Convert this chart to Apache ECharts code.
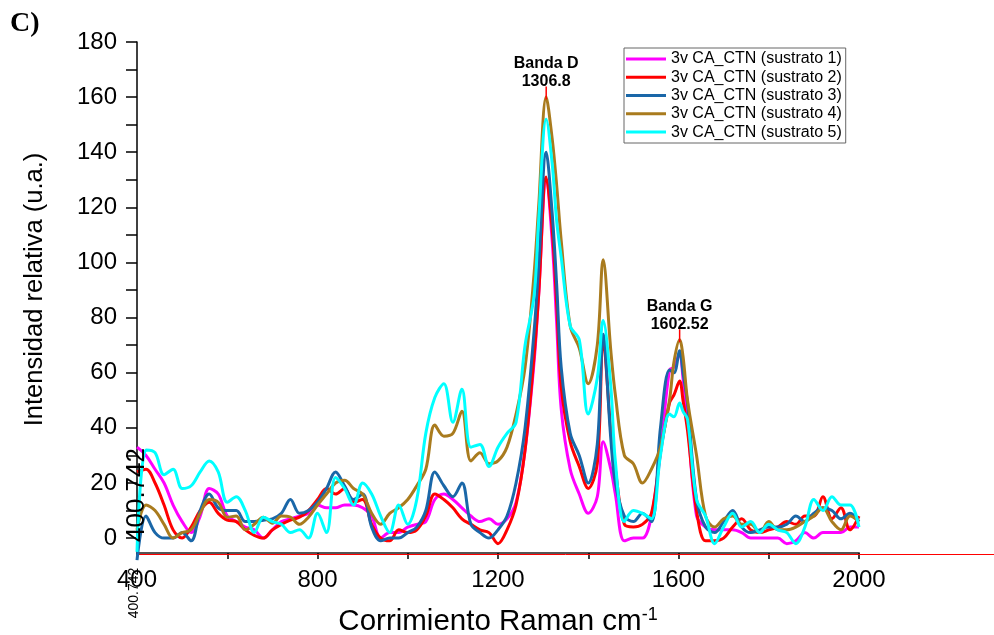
<!DOCTYPE html>
<html>
<head>
<meta charset="utf-8">
<title>Raman CA_CTN</title>
<script src="https://cdn.jsdelivr.net/npm/echarts@6/dist/echarts.min.js"></script>
<style>
  html, body { margin: 0; padding: 0; background: #fff; }
  #raman-chart { width: 994px; height: 635px; }
</style>
</head>
<body>
<div id="raman-chart"></div>
<script>
/*****
 * DATA
 */
//Raman shift (cm-1), shared by every spectrum
var ramanShift = [400, 420, 440, 460, 480, 500, 520, 540, 560, 580, 600, 620, 640, 660, 680,
  700, 720, 740, 760, 780, 800, 820, 840, 860, 880, 900, 920, 940, 960, 980,
  1000, 1020, 1040, 1060, 1080, 1100, 1120, 1140, 1160, 1180, 1200, 1220, 1240, 1260, 1280,
  1290, 1306.8, 1320, 1330, 1340, 1360, 1380, 1400, 1420, 1433, 1450, 1460, 1480, 1500,
  1520, 1540, 1560, 1580, 1590, 1602.52, 1610, 1620, 1640, 1660, 1680, 1700,
  1720, 1740, 1760, 1780, 1800, 1820, 1840, 1860, 1880, 1900, 1920, 1940, 1960, 1980, 2000];

var sustrato1 = [33, 30, 25, 20, 12, 6, 2, 8, 18, 16, 8, 6, 4, 3, 0,
  3, 6, 7, 8, 9, 12, 11, 11, 12, 12, 11, 8, 0, 2, 2,
  4, 5, 6, 14, 16, 14, 11, 8, 6, 7, 5, 7, 13, 32, 64,
  88, 130, 108, 78, 47, 25, 16, 9, 15, 35, 25, 16, -1, 0,
  0, 8, 31, 61, 62, 67, 58, 43, 8, 4, 3, 3,
  3, 2, 0, 0, 0, 0, -2, -1, 2, 0, 2, 2, 2, 4, 4];

var sustrato2 = [24, 25, 20, 12, 3, 0, 4, 10, 13, 9, 6.5, 6, 3, 1, 0,
  3, 5, 6.5, 7.6, 10, 14, 18, 16, 18, 13, 14, 5, 0, -1, 3,
  2, 3, 8, 16, 14, 11, 7, 5, 3, 2, -2, 3, 12, 32, 66,
  88, 131, 112, 85, 55, 35, 26, 18, 27, 72, 39, 25, 5, 4,
  5, 9, 31, 49, 52, 57, 50, 39, 10, -1, -1, 0,
  4, 7, 3, 2, 3, 4, 6, 5, 8, 8, 15, 7, 11, 3, 8];

var sustrato3 = [-8, 8, 2, 0, 0, 2, -1, 10, 16, 11, 10, 10, 6, 6, 6.5,
  7, 9, 14, 9, 10, 13, 18, 24, 19, 14, 16, 4, -1, 0, 0,
  2, 4, 10, 24, 19, 15, 20, 5, 2, 0, 3, 8, 20, 40, 75,
  98, 140, 118, 92, 62, 38, 30, 20, 34, 74, 36, 20, 8, 6,
  9, 6, 40, 61, 60, 68, 60, 49, 14, 4, 2, 6,
  10, 4, 2, 3, 4, 4, 5, 8, 6, 9, 11, 10, 7, 9, 6];

var sustrato4 = [3, 12, 10, 5, 0, 2, 3, 9, 14, 13, 7.6, 8, 3, 5, 7.6,
  5.4, 8, 7.6, 5, 7.6, 12, 16, 20, 21, 18, 16, 9, 5, 9, 11,
  14, 19, 25, 41, 37, 38, 46, 28, 31, 27, 28, 33, 45, 62, 96,
  120, 160, 145, 128, 108, 77, 69, 56, 70, 101, 68, 52, 30, 27,
  20, 25, 33, 50, 64, 72, 66, 50, 30, 8, 4, 7,
  8, 5, 5, 2, 6, 3, 3, 4, 6, 8, 11, 6, 3, 8, 6];

var sustrato5 = [-5, 32, 31, 23, 25, 18, 19, 24, 28, 24, 13, 15, 10, 2, 7.6,
  6, 5, 2, 3, 0, 9, 2, 22, 18, 12, 20, 16, 8, 2, 12,
  5, 14, 38, 51, 56, 42, 54, 33, 34, 26, 33, 38, 42, 70, 88,
  115, 152, 136, 115, 102, 77, 72, 45, 58, 79, 55, 28, 6, 10,
  9, 7, 30, 45, 44, 49, 46, 43, 14, 8, -2, 4,
  9, 4, 6, 2, 5, 3, 2, -2, 4, 14, 10, 15, 12, 12, 4];

var seriesNames = ['3v CA_CTN (sustrato 1)', '3v CA_CTN (sustrato 2)', '3v CA_CTN (sustrato 3)',
  '3v CA_CTN (sustrato 4)', '3v CA_CTN (sustrato 5)'];

//Peak annotations
var peakShift = [1306.8, 1602.52];
var peakNames = ['Banda D', 'Banda G'];

//Axis ticks
var xLabels = [400, 800, 1200, 1600, 2000];
var xTicks = [400, 600, 800, 1000, 1200, 1400, 1600, 1800, 2000];
var yLabels = [0, 20, 40, 60, 80, 100, 120, 140, 160, 180];
var yTicks = [0, 10, 20, 30, 40, 50, 60, 70, 80, 90, 100, 110, 120, 130, 140, 150, 160, 170, 180];

/*****
 * CONFIGURATION
 */
var colMagenta = '#ff00ff';
var colRed = '#ff0000';
var colBlue = '#1a67a8';
var colBrown = '#a97b1e';
var colCyan = '#00ffff';
var fontSans = '"Liberation Sans", Arial, sans-serif';
var yMin = -5.4;

'use strict';

function pairs(values) {
  return ramanShift.map(function (x, i) {
    return [x, values[i]];
  });
}

function buildSeries(name, values, color) {
  return {
    name: name,
    type: 'line',
    data: pairs(values),
    smooth: 0.35,
    showSymbol: false,
    symbol: 'none',
    clip: false,
    lineStyle: {color: color, width: 3},
    itemStyle: {color: color}
  };
}

var allValues = [sustrato1, sustrato2, sustrato3, sustrato4, sustrato5];
var colors = [colMagenta, colRed, colBlue, colBrown, colCyan];

var series = allValues.map(function (v, i) {
  return buildSeries(seriesNames[i], v, colors[i]);
});

// peak labels sit on the tallest spectrum (sustrato 4)
series[3].markPoint = {
  silent: true,
  symbol: 'rect',
  symbolSize: [1.5, 13],
  symbolOffset: [0, -4],
  itemStyle: {color: colRed},
  label: {
    show: true,
    position: 'top',
    distance: -4,
    color: '#000',
    fontFamily: fontSans,
    fontWeight: 'bold',
    fontSize: 16,
    lineHeight: 18,
    formatter: function (p) {
      return p.name + '\n' + p.data.coord[0];
    }
  },
  data: peakShift.map(function (x, i) {
    return {name: peakNames[i], coord: [x, sustrato4[ramanShift.indexOf(x)]]};
  })
};

var myChart = echarts.init(document.getElementById('raman-chart'));

var option = {
  animation: false,
  backgroundColor: '#fff',
  grid: {left: 137, right: 135, top: 42, bottom: 82, outerBoundsMode: 'none'},
  legend: {
    orient: 'vertical',
    left: 624,
    top: 48,
    padding: [2, 4, 2, 2],
    itemGap: 0.5,
    itemWidth: 40,
    itemHeight: 3,
    icon: 'rect',
    borderColor: '#666',
    borderWidth: 1,
    textStyle: {fontFamily: fontSans, fontSize: 16, color: '#000', lineHeight: 17.8},
    data: seriesNames
  },
  xAxis: {
    type: 'value',
    min: 400,
    max: 2000,
    name: 'Corrimiento Raman cm{sup|-1}',
    nameLocation: 'middle',
    nameGap: 53,
    nameTextStyle: {
      fontFamily: fontSans, fontSize: 29.5, color: '#000',
      rich: {sup: {fontFamily: fontSans, fontSize: 18, color: '#000', verticalAlign: 'top', padding: [0, 0, 14, 0]}}
    },
    splitLine: {show: false},
    axisLine: {onZero: false, lineStyle: {color: '#555', width: 2}},
    axisTick: {customValues: xTicks, length: 6, lineStyle: {color: '#000', width: 1.5}},
    axisLabel: {
      customValues: xLabels, margin: 15, fontFamily: fontSans, fontSize: 24, color: '#000',
      formatter: function (v) { return String(v); }
    }
  },
  yAxis: {
    type: 'value',
    min: yMin,
    max: 180,
    name: 'Intensidad relativa (u.a.)',
    nameLocation: 'middle',
    nameGap: 89,
    nameTextStyle: {fontFamily: fontSans, fontSize: 25.5, color: '#000', padding: [0, 0, 0, 16]},
    splitLine: {show: false},
    axisLine: {show: true, lineStyle: {color: '#000', width: 1.5}},
    axisTick: {customValues: yTicks, length: 11, lineStyle: {color: '#000', width: 1.5}},
    axisLabel: {customValues: yLabels, margin: 20, fontFamily: fontSans, fontSize: 24, color: '#000'}
  },
  graphic: [
    {
      id: 'panel', type: 'text', left: 10, top: 10,
      style: {text: 'C)', font: 'bold 28px "Liberation Serif", "Times New Roman", serif', fill: '#000'}
    },
    {
      id: 'stray-big', type: 'text', x: 137, y: 495, rotation: Math.PI / 2, z: 100,
      style: {text: '400.742', font: '26px ' + fontSans, fill: '#000', textAlign: 'center', textVerticalAlign: 'middle'}
    },
    {
      id: 'stray-small', type: 'text', x: 134, y: 593, rotation: Math.PI / 2, z: 100,
      style: {text: '400.742', font: '14px ' + fontSans, fill: '#000', textAlign: 'center', textVerticalAlign: 'middle'}
    }
  ],
  series: series
};

myChart.setOption(option);

/****
 * RED BASELINE (runs past the end of the axis to the page edge)
 */
var baseY = myChart.convertToPixel({yAxisIndex: 0}, yMin) + 1.5;
var baseX = myChart.convertToPixel({xAxisIndex: 0}, 400);

myChart.setOption({
  graphic: [{
    id: 'baseline', type: 'line', z: 1,
    shape: {x1: baseX, y1: baseY, x2: myChart.getWidth(), y2: baseY},
    style: {stroke: colRed, lineWidth: 1}
  }]
});
</script>
</body>
</html>
